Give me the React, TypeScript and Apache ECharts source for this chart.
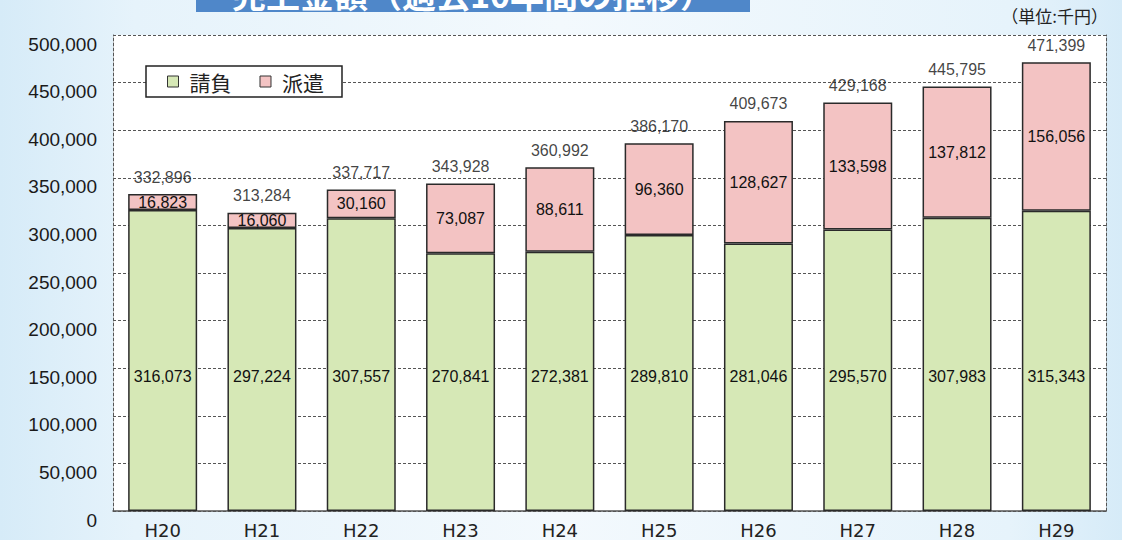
import React, { useEffect, useRef } from "react";
import * as echarts from "echarts";

const categories = ["H20", "H21", "H22", "H23", "H24", "H25", "H26", "H27", "H28", "H29"];
const ukeoi = [316073, 297224, 307557, 270841, 272381, 289810, 281046, 295570, 307983, 315343];
const haken = [16823, 16060, 30160, 73087, 88611, 96360, 128627, 133598, 137812, 156056];
const seriesNames = ["請負", "派遣"];
const titleText = "売上金額（過去10年間の推移）";
const unitText = "（単位:千円）";

const totals = ukeoi.map((v, i) => v + haken[i]);
const fmt = (v: number) => v.toLocaleString("en-US");

const NUMFONT = "'Liberation Sans', Arial, sans-serif";
const JP = "'Noto Sans CJK JP', sans-serif";

export default function App() {
  const ref = useRef<HTMLDivElement>(null);
  useEffect(() => {
    if (!ref.current) return;
    const chart = echarts.init(ref.current, null, { renderer: "svg" });
    chart.setOption({
      animation: false,
      backgroundColor: new echarts.graphic.LinearGradient(0, 0, 1, 0, [
        { offset: 0, color: "#d6ebf8" },
        { offset: 0.12, color: "#e6f3fb" },
        { offset: 0.5, color: "#f3f9fd" },
        { offset: 0.9, color: "#e6f3fb" },
        { offset: 1, color: "#d6ebf8" },
      ]),
      grid: {
        left: 113,
        right: 16,
        top: 35,
        bottom: 29,
        show: true,
        backgroundColor: "#ffffff",
        borderWidth: 0,
      },
      graphic: [
        {
          type: "rect",
          shape: { x: 196, y: 0, width: 554, height: 12 },
          style: { fill: "#4f87c9" },
        },
        {
          type: "text",
          x: 473,
          y: 10,
          style: {
            text: titleText,
            font: "bold 34px 'Noto Sans CJK JP', sans-serif",
            fill: "#ffffff",
            textAlign: "center",
            textVerticalAlign: "bottom",
          },
        },
        {
          type: "text",
          right: 14,
          top: 7,
          style: {
            text: unitText,
            font: "17px 'Noto Sans CJK JP', sans-serif",
            fill: "#222",
          },
        },
      ],
      legend: {
        data: seriesNames,
        left: 146,
        top: 66,
        orient: "horizontal",
        backgroundColor: "#ffffff",
        borderColor: "#222",
        borderWidth: 1.5,
        borderRadius: 0,
        padding: [5, 18, 5, 21],
        itemGap: 28,
        itemWidth: 11,
        itemHeight: 11,
        icon: "rect",
        itemStyle: { borderColor: "#333", borderWidth: 1 },
        textStyle: { fontFamily: JP, fontSize: 21, color: "#222", padding: [0, 0, 0, 6] },
      },
      xAxis: {
        type: "category",
        data: categories,
        axisLine: { show: true, lineStyle: { color: "#555", width: 1.5 } },
        axisTick: { show: false },
        axisLabel: {
          color: "#222",
          fontSize: 18,
          fontFamily: "'DejaVu Sans', sans-serif",
          margin: 10,
        },
      },
      yAxis: [
        {
          type: "value",
          min: 0,
          max: 500000,
          interval: 50000,
          axisLine: { show: true, lineStyle: { color: "#555", type: [3, 2], width: 1 } },
          axisTick: { show: false },
          splitLine: { show: true, lineStyle: { color: "#555", type: [3, 2], width: 1 } },
          axisLabel: {
            color: "#1a1a1a",
            fontSize: 19,
            fontFamily: NUMFONT,
            margin: 16,
            verticalAlign: "top",
            lineHeight: 18,
            formatter: (v: number) => fmt(v),
          },
        },
        {
          type: "value",
          position: "right",
          min: 0,
          max: 500000,
          interval: 50000,
          axisLine: { show: true, lineStyle: { color: "#555", type: [3, 2], width: 1 } },
          axisTick: { show: false },
          splitLine: { show: false },
          axisLabel: { show: false },
        },
      ],
      series: [
        {
          name: seriesNames[0],
          type: "bar",
          stack: "total",
          data: ukeoi,
          barWidth: 69,
          itemStyle: { color: "#d6e8b6", borderColor: "#2a2a2a", borderWidth: 1.5 },
          label: {
            show: true,
            position: "insideBottom",
            distance: 127,
            color: "#111",
            fontSize: 16,
            fontFamily: NUMFONT,
            formatter: (p: any) => fmt(p.value),
          },
        },
        {
          name: seriesNames[1],
          type: "bar",
          stack: "total",
          data: haken,
          barWidth: 69,
          itemStyle: { color: "#f3c3c3", borderColor: "#2a2a2a", borderWidth: 1.5 },
          label: {
            show: true,
            position: "inside",
            color: "#111",
            fontSize: 16,
            fontFamily: NUMFONT,
            formatter: (p: any) => fmt(p.value),
          },
        },
        {
          name: "合計",
          type: "scatter",
          data: totals,
          symbolSize: 0,
          itemStyle: { color: "transparent" },
          label: {
            show: true,
            position: "top",
            distance: 9,
            color: "#111",
            fontSize: 16,
            fontFamily: NUMFONT,
            formatter: (p: any) => fmt(p.value),
          },
          z: 10,
        },
      ],
    });
    return () => chart.dispose();
  }, []);
  return (
    <div
      ref={ref}
      style={{ position: "fixed", left: 0, top: 0, width: 1122, height: 540 }}
    />
  );
}
